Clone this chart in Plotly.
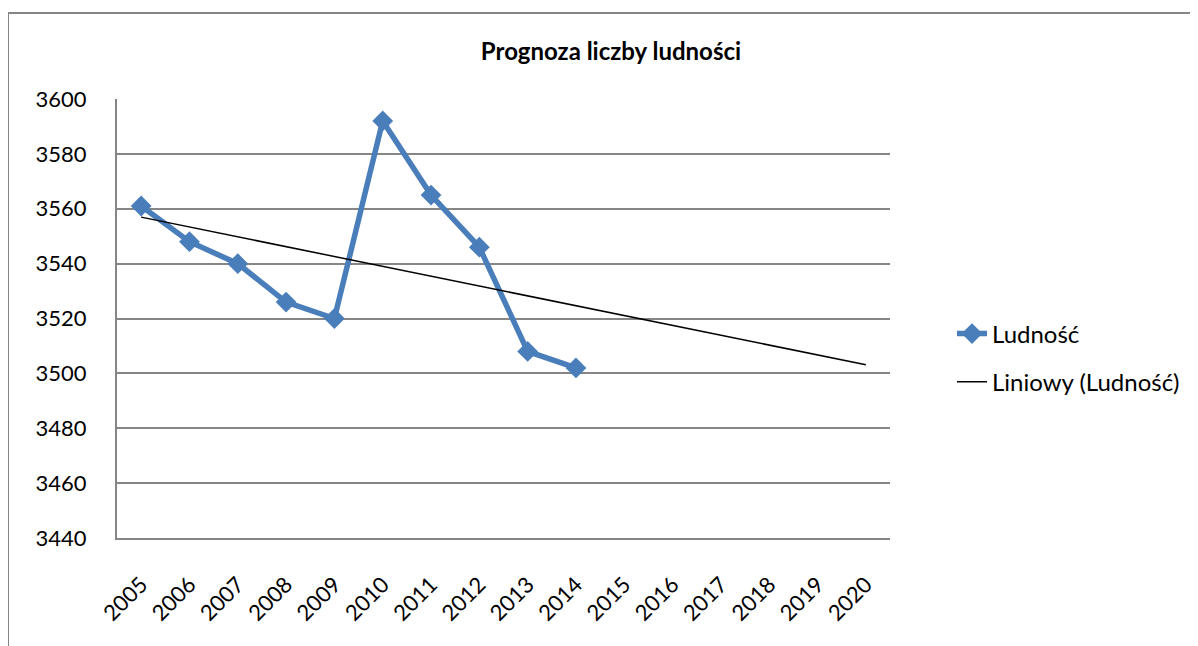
import numpy as np
import plotly.graph_objects as go

years = [str(y) for y in range(2005, 2021)]
data_years = [str(y) for y in range(2005, 2015)]
population = [3561, 3548, 3540, 3526, 3520, 3592, 3565, 3546, 3508, 3502]
y_ticks = [3440, 3460, 3480, 3500, 3520, 3540, 3560, 3580, 3600]

# Linear trend (Excel "Liniowy") fitted on the data, extended to 2020
xi = np.arange(len(population))
slope, intercept = np.polyfit(xi, population, 1)
trend_x = [years[0], years[-1]]
trend_y = [intercept, intercept + slope * (len(years) - 1)]

FONT = "Lato"
OFF = 8  # page body margin
L, T, W, H = 117 - OFF, 99 - OFF, 773, 439

fig = go.Figure()
fig.add_trace(go.Scatter(
    x=data_years, y=population, mode="lines+markers", name="Ludność",
    legendgroup="a",
    line=dict(color="#4A7EBB", width=5.5),
    marker=dict(symbol="diamond", size=16, color="#4A7EBB"),
))
fig.add_trace(go.Scatter(
    x=trend_x, y=trend_y, mode="lines", name="Liniowy (Ludność)",
    legendgroup="b",
    line=dict(color="black", width=1.5),
))

fig.update_layout(
    width=1198, height=646,
    margin=dict(l=L, r=1198 - L - W, t=T, b=646 - T - H),
    paper_bgcolor="white", plot_bgcolor="white",
    font=dict(family=FONT, size=22, color="black"),
    title=dict(text="<b>Prognoza liczby ludności</b>",
               x=((477 + 745) / 2 - OFF) / 1198, xanchor="center",
               y=1 - (52 - OFF) / 646, yanchor="middle", font=dict(size=24, family=FONT)),
    showlegend=True,
    legend=dict(x=(944 - L) / W, y=0.41, xanchor="left", yanchor="middle",
                font=dict(size=24, family=FONT), tracegroupgap=14,
                bgcolor="rgba(0,0,0,0)"),
    shapes=[dict(type="rect", xref="paper", yref="paper",
                 x0=(8 - OFF - L) / W, x1=(1197 - OFF - L) / W,
                 y0=-0.3, y1=(T + H - (13 - OFF)) / H,
                 line=dict(color="#868686", width=2), layer="below")],
)
fig.update_xaxes(type="category", categoryorder="array", categoryarray=years,
                 range=[-0.5, 15.5], tickangle=-45, showgrid=False,
                 showline=True, linecolor="#868686", linewidth=2,
                 ticks="", ticklabelstandoff=23,
                 tickfont=dict(size=22, family=FONT))
fig.update_yaxes(range=[3440, 3600], tickvals=y_ticks, showgrid=True,
                 gridcolor="#868686", gridwidth=2, showline=True, linecolor="#868686",
                 linewidth=2, zeroline=False, ticks="", ticklabelstandoff=24,
                 tickfont=dict(size=22, family=FONT))
fig.write_html("out.html")
